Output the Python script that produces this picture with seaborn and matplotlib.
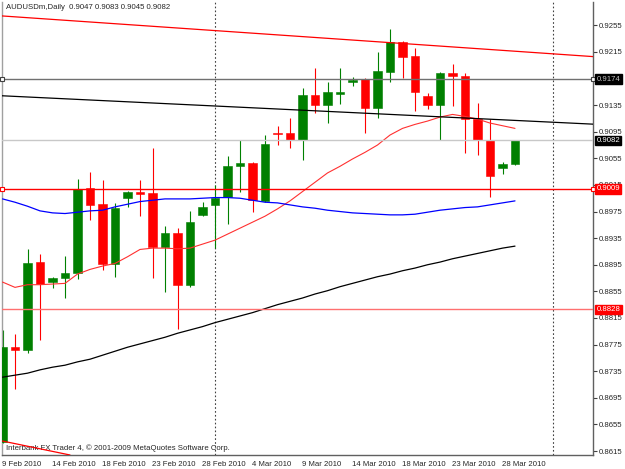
#!/usr/bin/env python3
"""AUDUSDm daily candles with MT4-style overlays."""

import matplotlib
matplotlib.use('Agg')
import matplotlib.pyplot as plt
import pandas as pd
import seaborn as sns

header = 'AUDUSDm,Daily  0.9047 0.9083 0.9045 0.9082'
footer = 'Interbank FX Trader 4, \u00a9 2001-2009 MetaQuotes Software Corp.'

# OHLC per daily bar (9 Feb 2010 .. 29 Mar 2010)
opens = [0.8629, 0.8772, 0.8767, 0.8899, 0.8869, 0.8875, 0.8882, 0.9010, 0.8986, 0.8896,
         0.8995, 0.9005, 0.9003, 0.8922, 0.8942, 0.8864, 0.8970, 0.8985, 0.8997, 0.9043,
         0.9048, 0.8991, 0.9093, 0.9093, 0.9082, 0.9150, 0.9135, 0.9152, 0.9170, 0.9174,
         0.9131, 0.9185, 0.9230, 0.9209, 0.9148, 0.9135, 0.9184, 0.9179, 0.9114, 0.9083,
         0.9041, 0.9047]
highs = [0.8797, 0.8791, 0.8919, 0.8911, 0.8877, 0.8908, 0.9024, 0.9035, 0.9023, 0.8988,
         0.9006, 0.9023, 0.9070, 0.8953, 0.8951, 0.8976, 0.8990, 0.9015, 0.9058, 0.9083,
         0.9049, 0.9090, 0.9103, 0.9115, 0.9160, 0.9191, 0.9169, 0.9191, 0.9177, 0.9175,
         0.9215, 0.9250, 0.9231, 0.9221, 0.9153, 0.9185, 0.9197, 0.9183, 0.9138, 0.9114,
         0.9050, 0.9083]
lows = [0.8627, 0.8708, 0.8763, 0.8782, 0.8860, 0.8845, 0.8873, 0.8962, 0.8887, 0.8876,
        0.8982, 0.8968, 0.8875, 0.8854, 0.8798, 0.8862, 0.8969, 0.8920, 0.8956, 0.9005,
        0.8975, 0.8990, 0.9075, 0.9070, 0.9053, 0.9123, 0.9108, 0.9137, 0.9163, 0.9093,
        0.9115, 0.9170, 0.9175, 0.9126, 0.9129, 0.9083, 0.9134, 0.9063, 0.9060, 0.8997,
        0.9031, 0.9045]
closes = [0.8772, 0.8767, 0.8898, 0.8866, 0.8875, 0.8883, 0.9009, 0.8985, 0.8896, 0.8981,
          0.9005, 0.9002, 0.8922, 0.8942, 0.8865, 0.8959, 0.8982, 0.8995, 0.9044, 0.9048,
          0.8992, 0.9077, 0.9091, 0.9082, 0.9150, 0.9135, 0.9154, 0.9154, 0.9172, 0.9130,
          0.9186, 0.9230, 0.9208, 0.9155, 0.9135, 0.9183, 0.9179, 0.9114, 0.9082, 0.9029,
          0.9046, 0.9082]

# moving averages
ma_red = [0.8869, 0.8861, 0.8865, 0.8865, 0.8866, 0.8867, 0.8881, 0.8888, 0.8893, 0.8897,
          0.8907, 0.8918, 0.8920, 0.8920, 0.8919, 0.8920, 0.8926, 0.8932, 0.8941, 0.8950,
          0.8959, 0.8968, 0.8979, 0.8991, 0.9005, 0.9019, 0.9033, 0.9043, 0.9054, 0.9064,
          0.9075, 0.9090, 0.9100, 0.9106, 0.9111, 0.9117, 0.9121, 0.9118, 0.9114, 0.9108,
          0.9104, 0.9100]
ma_blue = [0.8994, 0.8989, 0.8983, 0.8976, 0.8973, 0.8972, 0.8974, 0.8976, 0.8977, 0.8982,
           0.8986, 0.8990, 0.8992, 0.8994, 0.8994, 0.8994, 0.8995, 0.8996, 0.8996, 0.8995,
           0.8992, 0.8989, 0.8988, 0.8985, 0.8982, 0.8980, 0.8977, 0.8975, 0.8973, 0.8972,
           0.8971, 0.8970, 0.8970, 0.8971, 0.8974, 0.8977, 0.8979, 0.8981, 0.8982, 0.8985,
           0.8988, 0.8991]
ma_black = [0.8726, 0.8729, 0.8732, 0.8737, 0.8741, 0.8744, 0.8749, 0.8753, 0.8759, 0.8765,
            0.8771, 0.8776, 0.8781, 0.8786, 0.8792, 0.8797, 0.8802, 0.8808, 0.8813, 0.8818,
            0.8823, 0.8829, 0.8835, 0.8840, 0.8845, 0.8851, 0.8856, 0.8862, 0.8867, 0.8872,
            0.8877, 0.8881, 0.8886, 0.8890, 0.8895, 0.8899, 0.8904, 0.8908, 0.8912, 0.8916,
            0.8920, 0.8923]

tick_labels = ['9 Feb 2010', '14 Feb 2010', '18 Feb 2010', '23 Feb 2010', '28 Feb 2010',
               '4 Mar 2010', '9 Mar 2010', '14 Mar 2010', '18 Mar 2010', '23 Mar 2010',
               '28 Mar 2010']
tick_bars = [0, 4, 8, 12, 16, 20, 24, 28, 32, 36, 40]
month_breaks = [17, 44]  # 1 Mar, 1 Apr

# drawn objects
red_trend = [(0, 0.9269), (41, 0.9216)]
black_trend = [(0, 0.9149), (41, 0.9112)]
low_red_trend = [(0, 0.8630), (5.4, 0.8609)]
hlines = [(0.9174, '#707070'), (0.9082, '#c8c8c8'), (0.9009, '#ff0000'), (0.8828, '#ff7070')]
price_boxes = [(0.9174, 'black', '#c0c0c0'), (0.9082, 'black', 'white'),
               (0.9009, '#ff0000', 'white'), (0.8828, '#ff0000', 'white')]
yticks = [0.8615 + 0.004 * k for k in range(17)]
hidden_ticks = ['0.9175']  # fully covered by the 0.9174 box on the original

sns.set_style('white')
plt.rcParams['font.family'] = ['Liberation Sans', 'DejaVu Sans']
FS = 5.6

df = pd.DataFrame({'bar': range(len(opens)), 'open': opens, 'high': highs,
                   'low': lows, 'close': closes, 'ma_red': ma_red,
                   'ma_blue': ma_blue, 'ma_black': ma_black})

fig = plt.figure(figsize=(6.25, 4.69), dpi=100)
ax = fig.add_axes([2 / 625, 14 / 469, 591 / 625, 453 / 469])
ax.set_xlim(-0.04, 47.24)
ax.set_ylim(0.8609, 0.9290)

# candles
for row in df.itertuples():
    col = '#008000' if row.close >= row.open else '#ff0000'
    ax.vlines(row.bar, row.low, row.high, color=col, lw=0.8, zorder=2)
    lo, hi = min(row.open, row.close), max(row.open, row.close)
    if hi - lo < 0.00008:
        ax.hlines((lo + hi) / 2, row.bar - 0.33, row.bar + 0.33, color=col, lw=1.3, zorder=3)
    else:
        ax.bar(row.bar, hi - lo, bottom=lo, width=0.66, color=col,
               edgecolor=col, linewidth=0.4, zorder=3)

# moving averages
sns.lineplot(data=df, x='bar', y='ma_red', ax=ax, color='#ff3030', linewidth=0.8, zorder=4)
sns.lineplot(data=df, x='bar', y='ma_blue', ax=ax, color='#0000ff', linewidth=0.9, zorder=4)
sns.lineplot(data=df, x='bar', y='ma_black', ax=ax, color='black', linewidth=0.9, zorder=4)

# trend lines and levels
ax.axline(red_trend[0], red_trend[1], color='#ff0000', lw=0.9, zorder=4)
ax.axline(black_trend[0], black_trend[1], color='black', lw=0.9, zorder=4)
ax.axline(low_red_trend[0], low_red_trend[1], color='#ff0000', lw=0.9, zorder=4)
for lvl, col in hlines:
    ax.axhline(lvl, color=col, lw=1.0, zorder=4)
for lvl, col in [(0.9174, '#404040'), (0.9009, '#ff0000')]:
    ax.plot([0.0, 1.0], [lvl, lvl], ls='none', marker='s', ms=3, mfc='white', mec=col,
            mew=0.8, transform=ax.get_yaxis_transform(), clip_on=False, zorder=6)

for xb in month_breaks:
    ax.axvline(xb, color='#404040', lw=0.8, ls=(0, (1.5, 2)), zorder=1)

ax.text(0.006, 0.987, header, transform=ax.transAxes, fontsize=FS, va='center', ha='left')
ax.text(0.006, 0.006, footer, transform=ax.transAxes, fontsize=FS, va='bottom', ha='left')

# axes styling
ax.set_xlabel('')
ax.set_ylabel('')
ax.set_xticks(tick_bars)
ax.set_xticklabels(tick_labels, fontsize=FS, ha='left')
ax.yaxis.tick_right()
ax.set_yticks(yticks)
ylabels = [f'{v:.4f}' for v in yticks]
ax.set_yticklabels(['' if s in hidden_ticks else s for s in ylabels], fontsize=FS)
ax.tick_params(axis='both', direction='out', length=3, width=0.8, color='#404040', pad=1)
for side in ['left', 'right', 'bottom']:
    ax.spines[side].set_color('#606060')
    ax.spines[side].set_linewidth(1.0)
ax.spines['left'].set_color('#a0a0a0')
ax.spines['top'].set_visible(False)

for lvl, bg, fg in price_boxes:
    ax.text(1.006, lvl, f'{lvl:.4f}', transform=ax.get_yaxis_transform(), fontsize=FS,
            va='center', ha='left', color=fg, clip_on=False, zorder=7,
            bbox=dict(boxstyle='square,pad=0.15', facecolor=bg, edgecolor=bg))

fig.savefig('out.png', dpi=100)
plt.close(fig)
